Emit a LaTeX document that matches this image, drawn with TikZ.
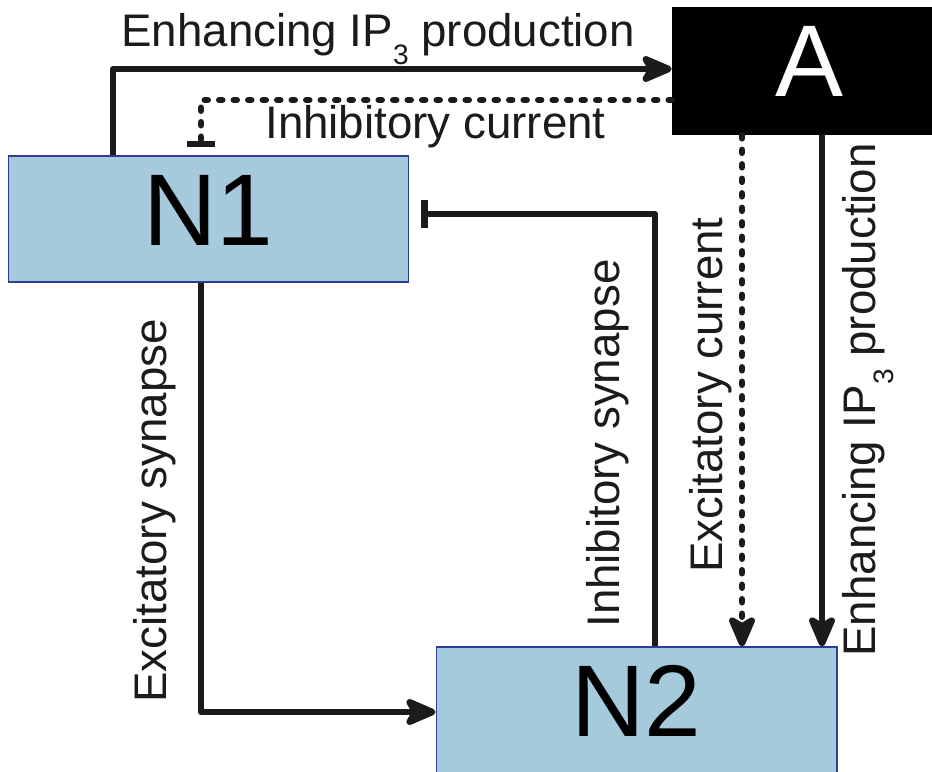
\documentclass[tikz,border=0pt]{standalone}
\usepackage{fontspec}
\setmainfont{Liberation Sans}
\usepackage{tikz}
\usetikzlibrary  {positioning}
\usetikzlibrary{arrows.meta}
\definecolor{cellblue}{HTML}{A5CADB}
\definecolor{celledge}{HTML}{2E3C96}
\definecolor{ink}{HTML}{1C1A1B}
\newcommand{\IPthree}{IP\raisebox{-0.4em}{\fontsize{16}{16}\selectfont 3}}

\begin{document}
\begin{tikzpicture}[x=0.02cm,y=-0.02cm,
cell/.style={draw=celledge,fill=cellblue,line width=0.6pt,minimum width=8.02cm,minimum height=2.52cm,font=\fontsize{58}{58}\selectfont,text depth=0.36cm},
astro/.style={fill=black,text=white,minimum width=5.48cm,minimum height=2.56cm,font=\fontsize{58}{58}\selectfont,text depth=0.4cm},
link/.style={draw=ink,line width=1.3mm,line join=round},
excite/.style={link,-{Stealth[length=7.6mm,width=6.4mm,inset=1.8mm,round]}},
inhib/.style={link,-{Bar[width=5.6mm]}},
dots/.style={dash pattern=on 0.6mm off 2.3mm,line cap=round},
lbl/.style={text=ink,font=\fontsize{26}{26}\selectfont,inner sep=0pt}]
\useasboundingbox (0,0) rectangle (932,771);

\node[cell] (n1) at (208.5,219) {N1};
\node[cell] (n2) at (636.5,710) {N2};
\node[astro] (a) at (809,71) {A};

\draw[excite] (n1.north -| 113,0) |- (a.west |- 0,69);
\draw[inhib,dots,shorten >=1.6mm] (a.west |- 0,100) -| (n1.north -| 201,0);
\draw[inhib,shorten >=2.4mm] (n2.north -| 655,0) |- (n1.east |- 0,214);
\draw[excite] (n1.south -| 201,0) |- (n2.west |- 0,712);
\draw[excite,dots] (a.south -| 742,0) -- (n2.north -| 742,0);
\draw[excite] (a.south -| 822,0) -- (n2.north -| 822,0);

\node[lbl,anchor=base west] (t1) at (121,46) {Enhancing \IPthree{} production};
\node[lbl,anchor=base west] (t2) at (265,138) {Inhibitory current};
\node[lbl,anchor=base west,rotate=90] (t3) at (166,703) {Excitatory synapse};
\node[lbl,anchor=base west,rotate=90] (t4) at (619,628) {Inhibitory synapse};
\node[lbl,anchor=base west,rotate=90] (t5) at (722,573) {Excitatory current};
\node[lbl,anchor=base west,rotate=90] (t6) at (875,657) {Enhancing \IPthree{} production};
\end{tikzpicture}
\end{document}
